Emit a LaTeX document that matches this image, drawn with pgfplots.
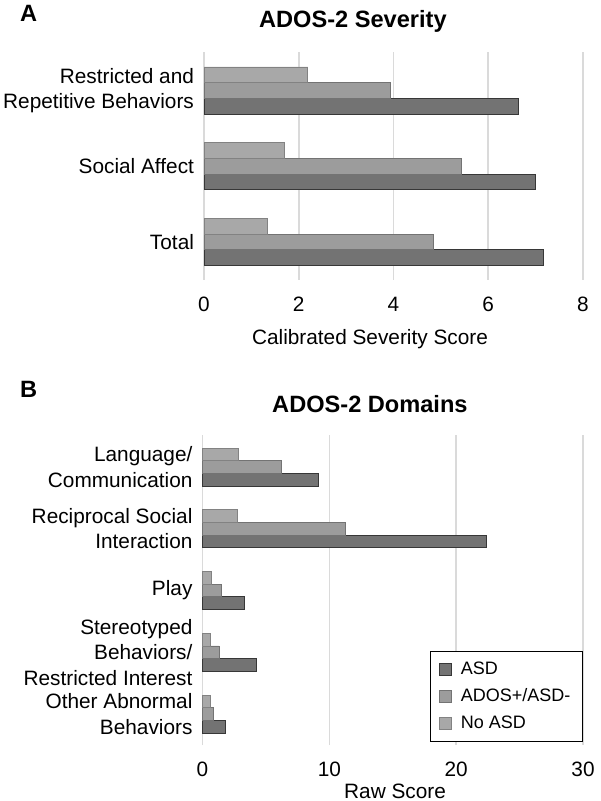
\documentclass[border=0pt]{standalone}
\usepackage{fontspec}
\setmainfont{Liberation Sans}
\usepackage{pgfplots}
\pgfplotsset{compat=1.18}

\definecolor{asd}{RGB}{115,115,115}
\definecolor{asdline}{RGB}{55,55,55}
\definecolor{adosp}{RGB}{156,156,156}
\definecolor{adospline}{RGB}{115,115,115}
\definecolor{noasd}{RGB}{168,168,168}
\definecolor{noasdline}{RGB}{130,130,130}
\definecolor{gridc}{RGB}{218,218,218}

\pgfplotsset{
  panel/.style={
    xbar, scale only axis,
    axis line style={draw=none},
    major tick length=0pt,
    xmajorgrids,
    grid style={gridc, line width=0.8pt},
    tick label style={font=\fontsize{10.4}{12.8}\selectfont},
    label style={font=\fontsize{10.4}{12.8}\selectfont},
    /pgf/number format/assume math mode=true,
    yticklabel style={align=right, xshift=-1.5pt},
    xticklabel style={yshift=-5pt},
    clip=false,
  },
  sq/.style={legend image code/.code={\draw[##1, bar shift=0pt] (0pt,-3pt) rectangle (6pt,3pt); \path (8.5pt,0pt);}},
}
\tikzset{ttl/.style={anchor=base, font=\fontsize{11.8}{14}\selectfont\bfseries}}

\begin{document}
\begin{tikzpicture}
\useasboundingbox (0,0) rectangle (300pt,-400.5pt);

\node[anchor=base west, font=\fontsize{11.8}{14}\selectfont\bfseries] at (6.5pt,-11pt) {A};
\node[anchor=base west, font=\fontsize{11.8}{14}\selectfont\bfseries] at (6.5pt,-198.5pt) {B};

% Panel A: ADOS-2 Severity
\begin{axis}[panel,
  at={(102pt,-140pt)}, anchor=south west,
  width=189.5pt, height=114pt,
  xmin=0, xmax=8, xtick={0,2,4,6,8},
  ymin=-0.502, ymax=2.508,
  ytick={0,1,2},
  yticklabels={Total, Social Affect, {Restricted and\\Repetitive Behaviors}},
  xlabel={Calibrated Severity Score},
  xlabel style={at={(axis description cs:0.438,-0.285)}, anchor=base},
]
\addplot[fill=asd, draw=asdline, bar width=7.83pt, bar shift=-7.83pt]
  coordinates {(7.17,0) (6.99,1) (6.64,2)};
\addplot[fill=adosp, draw=adospline, bar width=7.83pt, bar shift=0pt]
  coordinates {(4.84,0) (5.43,1) (3.94,2)};
\addplot[fill=noasd, draw=noasdline, bar width=7.83pt, bar shift=7.83pt]
  coordinates {(1.34,0) (1.70,1) (2.19,2)};
\node[ttl] at (axis description cs:0.393,1.1096) {ADOS-2 Severity};
\end{axis}

% Panel B: ADOS-2 Domains
\begin{axis}[panel,
  at={(101.25pt,-372.5pt)}, anchor=south west,
  width=190.25pt, height=155pt,
  xmin=0, xmax=30, xtick={0,10,20,30},
  ymin=-0.502, ymax=4.518,
  ytick={0,1,2,3,4},
  yticklabels={{Other Abnormal\\Behaviors}, {Stereotyped\\Behaviors/\\Restricted Interest}, Play, {Reciprocal Social\\Interaction}, {Language/\\Communication}},
  xlabel={Raw Score},
  xlabel style={at={(axis description cs:0.506,-0.171)}, anchor=base},
  legend style={at={(rel axis cs:1,0.01)}, anchor=south east,
    font=\fontsize{9}{11}\selectfont, draw=black, line width=0.6pt,
    inner xsep=4pt, inner ysep=3pt, row sep=1.6pt},
  legend cell align=left,
]
\addplot[fill=asd, draw=asdline, bar width=6.33pt, bar shift=-6.33pt, sq]
  coordinates {(1.80,0) (4.28,1) (3.27,2) (22.4,3) (9.15,4)};
\addplot[fill=adosp, draw=adospline, bar width=6.33pt, bar shift=0pt, sq]
  coordinates {(0.84,0) (1.31,1) (1.50,2) (11.3,3) (6.23,4)};
\addplot[fill=noasd, draw=noasdline, bar width=6.33pt, bar shift=6.33pt, sq]
  coordinates {(0.61,0) (0.61,1) (0.68,2) (2.77,3) (2.83,4)};
\legend{ASD, ADOS+/ASD-, No ASD}
\node[ttl] at (axis description cs:0.44,1.071) {ADOS-2 Domains};
\end{axis}
\end{tikzpicture}
\end{document}
